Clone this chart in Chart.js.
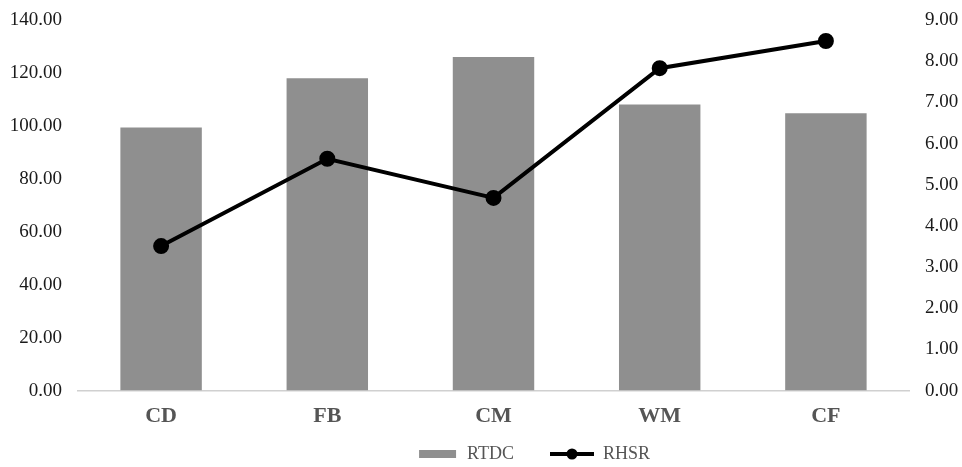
<!DOCTYPE html>
<html>
<head>
<meta charset="utf-8">
<script src="https://cdn.jsdelivr.net/npm/chart.js@4/dist/chart.umd.min.js"></script>
<style>
  html, body { margin: 0; padding: 0; background: #fff; }
  #wrap { width: 962px; height: 467px; }
</style>
</head>
<body>
<div id="wrap"><canvas id="chart"></canvas></div>
<script>
// data
const categories = ["CD", "FB", "CM", "WM", "CF"];
const rtdc = [99.4, 118.0, 126.0, 108.1, 104.8];
const rhsr = [3.51, 5.63, 4.68, 7.83, 8.49];
const leftTicks = [0, 20, 40, 60, 80, 100, 120, 140];
const rightTicks = [0, 1, 2, 3, 4, 5, 6, 7, 8, 9];

const BAR = "#8f8f8f";
const FONT = "'Liberation Serif', 'Times New Roman', serif";

// legend icons (transparent lead-in space sets the gap between items)
const barIcon = document.createElement("canvas");
barIcon.width = 70; barIcon.height = 8;
let c = barIcon.getContext("2d");
c.fillStyle = BAR;
c.fillRect(31, 0, 37, 8);

const lineIcon = document.createElement("canvas");
lineIcon.width = 70; lineIcon.height = 12;
c = lineIcon.getContext("2d");
c.fillStyle = "#000";
c.fillRect(26, 4, 44, 4);
c.beginPath();
c.arc(48, 6, 5.5, 0, Math.PI * 2);
c.fill();

// nudge the legend to the right like the original
const legendShift = {
  id: "legendShift",
  afterLayout(chart) {
    chart.legend.left += 38;
    chart.legend.right += 38;
  }
};

const ctx = document.getElementById("chart").getContext("2d");
new Chart(ctx, {
  data: {
    labels: categories,
    datasets: [
      {
        type: "line",
        label: "RHSR",
        data: rhsr,
        yAxisID: "y2",
        borderColor: "#000",
        backgroundColor: "#000",
        borderWidth: 4,
        pointRadius: 6,
        pointHoverRadius: 6,
        tension: 0,
        order: 1
      },
      {
        type: "bar",
        label: "RTDC",
        data: rtdc,
        yAxisID: "y",
        backgroundColor: BAR,
        categoryPercentage: 1,
        barPercentage: 0.49,
        order: 2
      }
    ]
  },
  plugins: [legendShift],
  options: {
    responsive: true,
    maintainAspectRatio: false,
    animation: false,
    layout: { padding: { top: 20, bottom: -6, left: 0, right: 0 } },
    plugins: {
      tooltip: { enabled: false },
      legend: {
        position: "bottom",
        labels: {
          usePointStyle: true,
          pointStyleWidth: 70,
          padding: 10,
          color: "#555",
          font: { family: FONT, size: 18 },
          generateLabels: function (chart) {
            return [
              { text: "RTDC", pointStyle: barIcon, fontColor: "#555", datasetIndex: 1, lineWidth: 0, strokeStyle: "transparent", fillStyle: "transparent" },
              { text: "RHSR", pointStyle: lineIcon, fontColor: "#555", datasetIndex: 0, lineWidth: 0, strokeStyle: "transparent", fillStyle: "transparent" }
            ];
          }
        }
      }
    },
    scales: {
      x: {
        grid: { display: false },
        border: { display: true, color: "#d0d0d0", width: 1.5 },
        ticks: {
          color: "#555",
          font: { family: FONT, size: 22, weight: "bold" },
          padding: 5
        }
      },
      y: {
        position: "left",
        min: 0,
        max: 140,
        afterFit: s => { s.width = 78; s.paddingTop = 0; },
        afterBuildTicks: s => { s.ticks = leftTicks.map(v => ({ value: v })); },
        grid: { display: false, drawTicks: false },
        border: { display: false },
        ticks: {
          color: "#1a1a1a",
          font: { family: FONT, size: 19 },
          padding: 16,
          callback: v => v.toFixed(2)
        }
      },
      y2: {
        position: "right",
        min: 0,
        max: 9,
        afterFit: s => { s.width = 53; s.paddingTop = 0; },
        afterBuildTicks: s => { s.ticks = rightTicks.map(v => ({ value: v })); },
        grid: { display: false, drawTicks: false },
        border: { display: false },
        ticks: {
          color: "#1a1a1a",
          font: { family: FONT, size: 19 },
          padding: 16,
          callback: v => v.toFixed(2)
        }
      }
    }
  }
});
</script>
</body>
</html>
